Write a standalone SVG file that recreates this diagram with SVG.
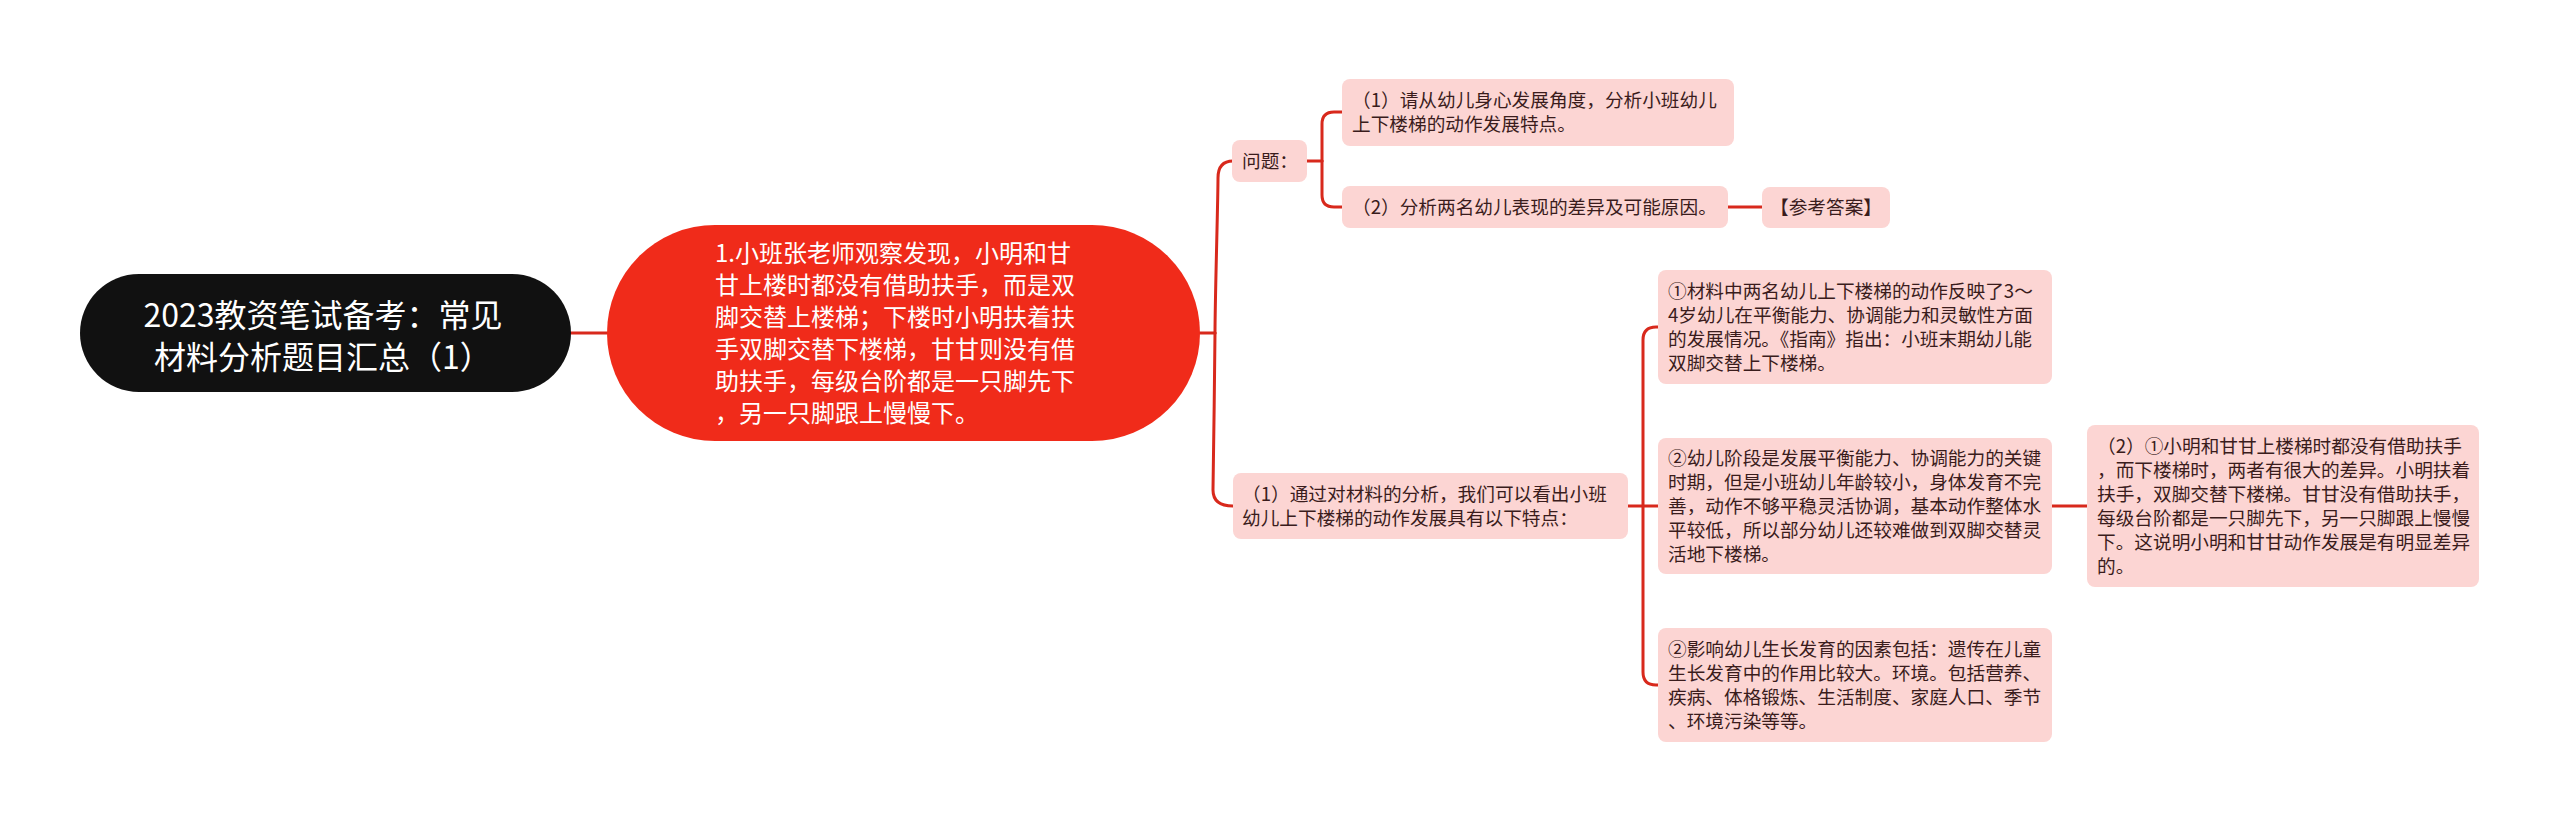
<svg xmlns="http://www.w3.org/2000/svg" width="2560" height="823" viewBox="0 0 2560 823">
<style>
.conn{fill:none;stroke:#d8291c;stroke-width:3;stroke-linecap:round;stroke-linejoin:round}
.pink{fill:#fcd5d3}
.t{font-family:"Noto Sans CJK SC","Noto Sans",sans-serif}
.s{font-size:18.67px;fill:#3a1c1c}
.root{font-size:32px;fill:#ffffff;text-anchor:middle}
.main{font-size:24px;fill:#ffffff}
</style>
<rect width="2560" height="823" fill="#ffffff"/>
<g id="connectors">
<path class="conn" d="M571,333 H607"/>
<path class="conn" d="M1200,333 H1215"/>
<path class="conn" d="M1215,333 C1215,300 1218,200 1218,178 Q1218,161 1233,161"/>
<path class="conn" d="M1215,333 C1215,370 1213,470 1213,490 Q1213,506 1233,506"/>
<path class="conn" d="M1307,161 H1322"/>
<path class="conn" d="M1322,161 V124 Q1322,112 1334,112 H1342"/>
<path class="conn" d="M1322,161 V195 Q1322,207 1334,207 H1342"/>
<path class="conn" d="M1728,207 H1762"/>
<path class="conn" d="M1628,506 H1658"/>
<path class="conn" d="M1643,506 V340 Q1643,327 1656,327 H1658"/>
<path class="conn" d="M1643,506 V672 Q1643,685 1656,685 H1658"/>
<path class="conn" d="M2052,506 H2087"/>
</g>
<g id="root">
<rect x="80" y="274" width="491" height="118" rx="59" fill="#111111"/>
<text class="t root" x="323" y="327">2023教资笔试备考：常见</text>
<text class="t root" x="323" y="369">材料分析题目汇总（1）</text>
</g>
<g id="main">
<rect x="607" y="225" width="593" height="216" rx="108" fill="#f02b1a"/>
<text class="t main" x="715" y="262">1.小班张老师观察发现，小明和甘</text>
<text class="t main" x="715" y="294">甘上楼时都没有借助扶手，而是双</text>
<text class="t main" x="715" y="326">脚交替上楼梯；下楼时小明扶着扶</text>
<text class="t main" x="715" y="358">手双脚交替下楼梯，甘甘则没有借</text>
<text class="t main" x="715" y="390">助扶手，每级台阶都是一只脚先下</text>
<text class="t main" x="715" y="422">，另一只脚跟上慢慢下。</text>
</g>
<g id="wenti">
<rect class="pink" x="1232" y="140" width="75" height="42" rx="8"/>
<text class="t s" x="1242" y="168">问题：</text>
</g>
<g id="q1">
<rect class="pink" x="1342" y="79" width="392" height="67" rx="8"/>
<text class="t s" x="1352" y="107">（1）请从幼儿身心发展角度，分析小班幼儿</text>
<text class="t s" x="1352" y="131">上下楼梯的动作发展特点。</text>
</g>
<g id="q2">
<rect class="pink" x="1342" y="186" width="386" height="42" rx="8"/>
<text class="t s" x="1352" y="214">（2）分析两名幼儿表现的差异及可能原因。</text>
</g>
<g id="answer">
<rect class="pink" x="1762" y="187" width="128" height="41" rx="8"/>
<text class="t s" x="1770" y="214">【参考答案】</text>
</g>
<g id="a1">
<rect class="pink" x="1233" y="473" width="395" height="66" rx="8"/>
<text class="t s" x="1242" y="501">（1）通过对材料的分析，我们可以看出小班</text>
<text class="t s" x="1242" y="525">幼儿上下楼梯的动作发展具有以下特点：</text>
</g>
<g id="p1">
<rect class="pink" x="1658" y="270" width="394" height="114" rx="8"/>
<text class="t s" x="1668" y="298">①材料中两名幼儿上下楼梯的动作反映了3～</text>
<text class="t s" x="1668" y="322">4岁幼儿在平衡能力、协调能力和灵敏性方面</text>
<text class="t s" x="1668" y="346">的发展情况。《指南》指出：小班末期幼儿能</text>
<text class="t s" x="1668" y="370">双脚交替上下楼梯。</text>
</g>
<g id="p2">
<rect class="pink" x="1658" y="438" width="394" height="136" rx="8"/>
<text class="t s" x="1668" y="465">②幼儿阶段是发展平衡能力、协调能力的关键</text>
<text class="t s" x="1668" y="489">时期，但是小班幼儿年龄较小，身体发育不完</text>
<text class="t s" x="1668" y="513">善，动作不够平稳灵活协调，基本动作整体水</text>
<text class="t s" x="1668" y="537">平较低，所以部分幼儿还较难做到双脚交替灵</text>
<text class="t s" x="1668" y="561">活地下楼梯。</text>
</g>
<g id="p3">
<rect class="pink" x="1658" y="628" width="394" height="114" rx="8"/>
<text class="t s" x="1668" y="656">②影响幼儿生长发育的因素包括：遗传在儿童</text>
<text class="t s" x="1668" y="680">生长发育中的作用比较大。环境。包括营养、</text>
<text class="t s" x="1668" y="704">疾病、体格锻炼、生活制度、家庭人口、季节</text>
<text class="t s" x="1668" y="728">、环境污染等等。</text>
</g>
<g id="b2">
<rect class="pink" x="2087" y="425" width="392" height="162" rx="8"/>
<text class="t s" x="2097" y="453">（2）①小明和甘甘上楼梯时都没有借助扶手</text>
<text class="t s" x="2097" y="477">，而下楼梯时，两者有很大的差异。小明扶着</text>
<text class="t s" x="2097" y="501">扶手，双脚交替下楼梯。甘甘没有借助扶手，</text>
<text class="t s" x="2097" y="525">每级台阶都是一只脚先下，另一只脚跟上慢慢</text>
<text class="t s" x="2097" y="549">下。这说明小明和甘甘动作发展是有明显差异</text>
<text class="t s" x="2097" y="573">的。</text>
</g>
</svg>
